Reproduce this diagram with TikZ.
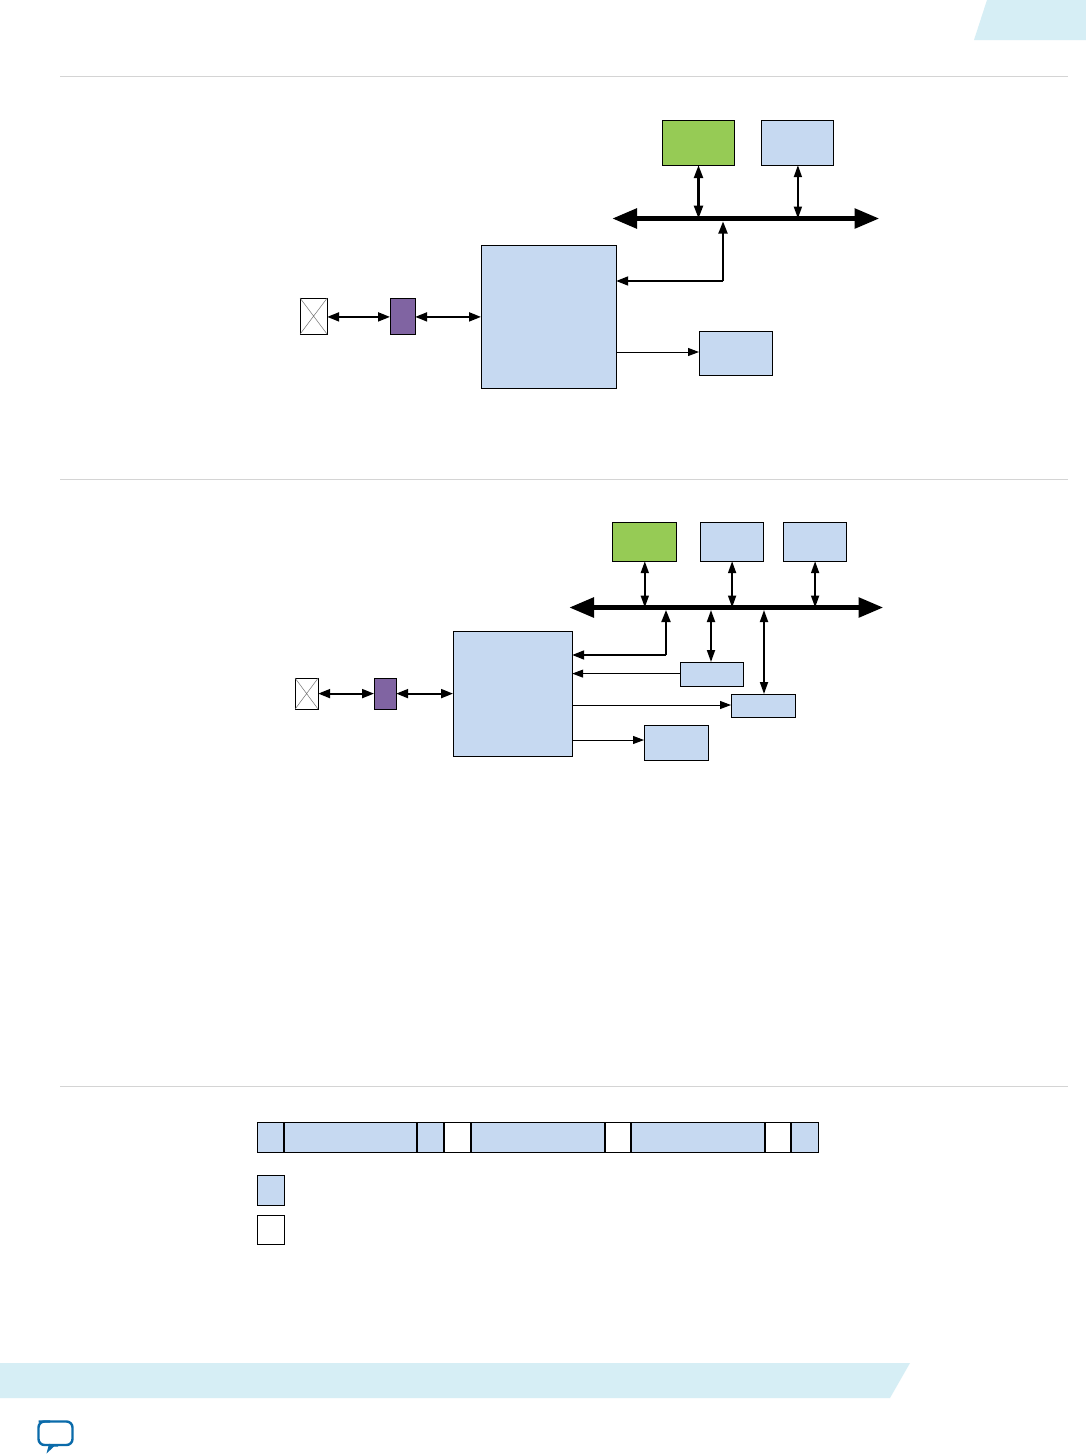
\documentclass[tikz,border=0pt]{standalone}
\usetikzlibrary{arrows.meta,calc}
\definecolor{blk}{HTML}{C6D9F1}
\definecolor{grn}{HTML}{96CB55}
\definecolor{pur}{HTML}{8064A2}
\definecolor{tab}{HTML}{D6EEF5}
\definecolor{rule}{HTML}{D4D4D4}
\definecolor{chat}{HTML}{0A6BAA}
\newcommand{\bx}[6]{\node[#2,minimum width=#5pt-#3pt-0.8pt,minimum height=#6pt-#4pt-0.8pt] (#1) at ({(#3+#5)/2-0.4},{(#4+#6)/2-0.4}) {};}
\newcommand{\sx}[6]{\node[#2,minimum width=#5pt-#3pt-0.4pt,minimum height=#6pt-#4pt-0.8pt] (#1) at ({(#3+#5)/2-0.2},{(#4+#6)/2-0.4}) {};}
\tikzset{
 x=1pt,y=-1pt,
 base/.style={draw=black,line width=1pt,inner sep=0pt,outer sep=0pt,rectangle},
 bluebox/.style={base,fill=blk},
 greenbox/.style={base,fill=grn},
 purplebox/.style={base,fill=pur},
 whitebox/.style={base,fill=white},
 io/.style={base,fill=white,line width=.8pt},
 cross/.style={draw=black!55,line width=.5pt},
 sep/.style={draw=rule,line width=1pt},
 bus/.style={line width=5.5pt,{Triangle[length=25pt,width=19pt]}-{Triangle[length=25pt,width=19pt]}},
 dblheavy/.style={line width=2.5pt,{Triangle[length=13pt,width=9pt]}-{Triangle[length=13pt,width=9pt]}},
 dbl/.style={line width=2pt,{Triangle[length=12pt,width=9pt]}-{Triangle[length=12pt,width=9pt]}},
 dblthin/.style={line width=1.8pt,{Triangle[length=12pt,width=8pt]}-{Triangle[length=12pt,width=8pt]}},
 one/.style={line width=1pt,-{Triangle[length=11pt,width=8pt]}},
 onethick/.style={line width=1.8pt,-{Triangle[length=12pt,width=9pt]}},
}
\begin{document}
\begin{tikzpicture}
\useasboundingbox (0,0) rectangle (1086,1454);
\fill[white] (0,0) rectangle (1086,1454);
% page furniture
\fill[tab] (987,0) -- (1086,0) -- (1086,40) -- (974,40) -- cycle;
\fill[tab] (0,1363) -- (910,1363) -- (890,1398) -- (0,1398) -- cycle;
\draw[sep] (60,76) -- (1068,76);
\draw[sep] (60,479) -- (1068,479);
\draw[sep] (60,1086) -- (1068,1086);
\draw[chat,line width=2.4pt,rounded corners=6pt,line join=round] (38.5,1421.5) -- (72.5,1421.5) -- (72.5,1445) -- (56,1445) -- (49,1445);
\fill[chat] (46.5,1453.5) -- (49,1444) -- (58,1444) -- (58,1446.5) -- (54,1446.5) -- cycle;
\draw[chat,line width=2.4pt,rounded corners=6pt] (50,1445) -- (38.5,1445) -- (38.5,1421.5) -- (50,1421.5);

% first diagram
\bx{ga}{greenbox}{662}{120}{735}{166}
\bx{gb}{bluebox}{761}{120}{834}{166}
\bx{ca}{bluebox}{481}{245}{617}{389}
\bx{da}{bluebox}{699}{331}{773}{376}
\bx{pa}{purplebox}{390}{298}{416}{335}
\bx{xa}{io}{300}{298}{328}{335}
\draw[cross] (xa.north west) -- (xa.south east) (xa.north east) -- (xa.south west);
\coordinate (busal) at (612,218.5);
\coordinate (busar) at (879.5,218.5);
\draw[bus] (busal) -- (busar);
\draw[dblheavy] ([xshift=.4pt]ga.south) -- ([xshift=.4pt]ga.south |- busal);
\draw[dblthin] ([xshift=.8pt]gb.south) -- ([xshift=.8pt]gb.south |- busal);
\coordinate (ja) at (723,281);
\draw[onethick] (ja) -- (723,221.5);
\draw[onethick] (ja) -- (ja -| ca.east);
\draw[dbl] ([yshift=-.8pt]xa.east) -- ([yshift=-.8pt]pa.west);
\draw[dbl] ([yshift=-.8pt]pa.east) -- ([yshift=-.8pt]ca.west |- pa.east);
\draw[one] (ca.east |- 0,352) -- (da.west |- 0,352);

% second diagram
\bx{gc}{greenbox}{612}{522}{677}{562}
\bx{ge}{bluebox}{700}{522}{764}{562}
\bx{gf}{bluebox}{783}{522}{847}{562}
\bx{cb}{bluebox}{453}{631}{573}{757}
\bx{ea}{bluebox}{680}{662}{744}{687}
\bx{eb}{bluebox}{731}{694}{796}{718}
\bx{ec}{bluebox}{644}{725}{709}{761}
\bx{pb}{purplebox}{374}{678}{397}{710}
\bx{xb}{io}{295}{678}{319}{710}
\draw[cross] (xb.north west) -- (xb.south east) (xb.north east) -- (xb.south west);
\coordinate (busbl) at (569,607.5);
\coordinate (busbr) at (883.5,607.5);
\draw[bus] (busbl) -- (busbr);
\draw[dblthin] ([xshift=.7pt]gc.south) -- ([xshift=.7pt]gc.south |- busbl);
\draw[dblthin] ([xshift=.5pt]ge.south) -- ([xshift=.5pt]ge.south |- busbl);
\draw[dblthin] ([xshift=.5pt]gf.south) -- ([xshift=.5pt]gf.south |- busbl);
\coordinate (jb) at (666,655);
\draw[onethick] (jb) -- (666,610);
\draw[onethick] (jb) -- (jb -| cb.east);
\draw[dblthin] (ea.north -| 711,0) -- (711,610);
\draw[dblthin] (eb.north -| 764,0) -- (764,610);
\draw[one] (ea.west |- 0,673.6) -- (cb.east |- 0,673.6);
\draw[one] (cb.east |- 0,705) -- (eb.west |- 0,705);
\draw[one] (cb.east |- 0,740) -- (ec.west |- 0,740);
\draw[dbl] (xb.east) -- (pb.west);
\draw[dbl] (pb.east) -- (cb.west |- pb.east);

% frame layout strip
\sx{s1}{bluebox}{257}{1122}{284}{1153}
\sx{s2}{bluebox}{284}{1122}{417}{1153}
\sx{s3}{bluebox}{417}{1122}{444}{1153}
\sx{s4}{whitebox}{444}{1122}{471}{1153}
\sx{s5}{bluebox}{471}{1122}{605}{1153}
\sx{s6}{whitebox}{605}{1122}{631}{1153}
\sx{s7}{bluebox}{631}{1122}{765}{1153}
\sx{s8}{whitebox}{765}{1122}{791}{1153}
\sx{s9}{bluebox}{791}{1122}{818.8}{1153}
\bx{la}{bluebox}{257}{1175}{285}{1206}
\bx{lb}{whitebox}{257}{1215}{285}{1245}
\end{tikzpicture}
\end{document}
